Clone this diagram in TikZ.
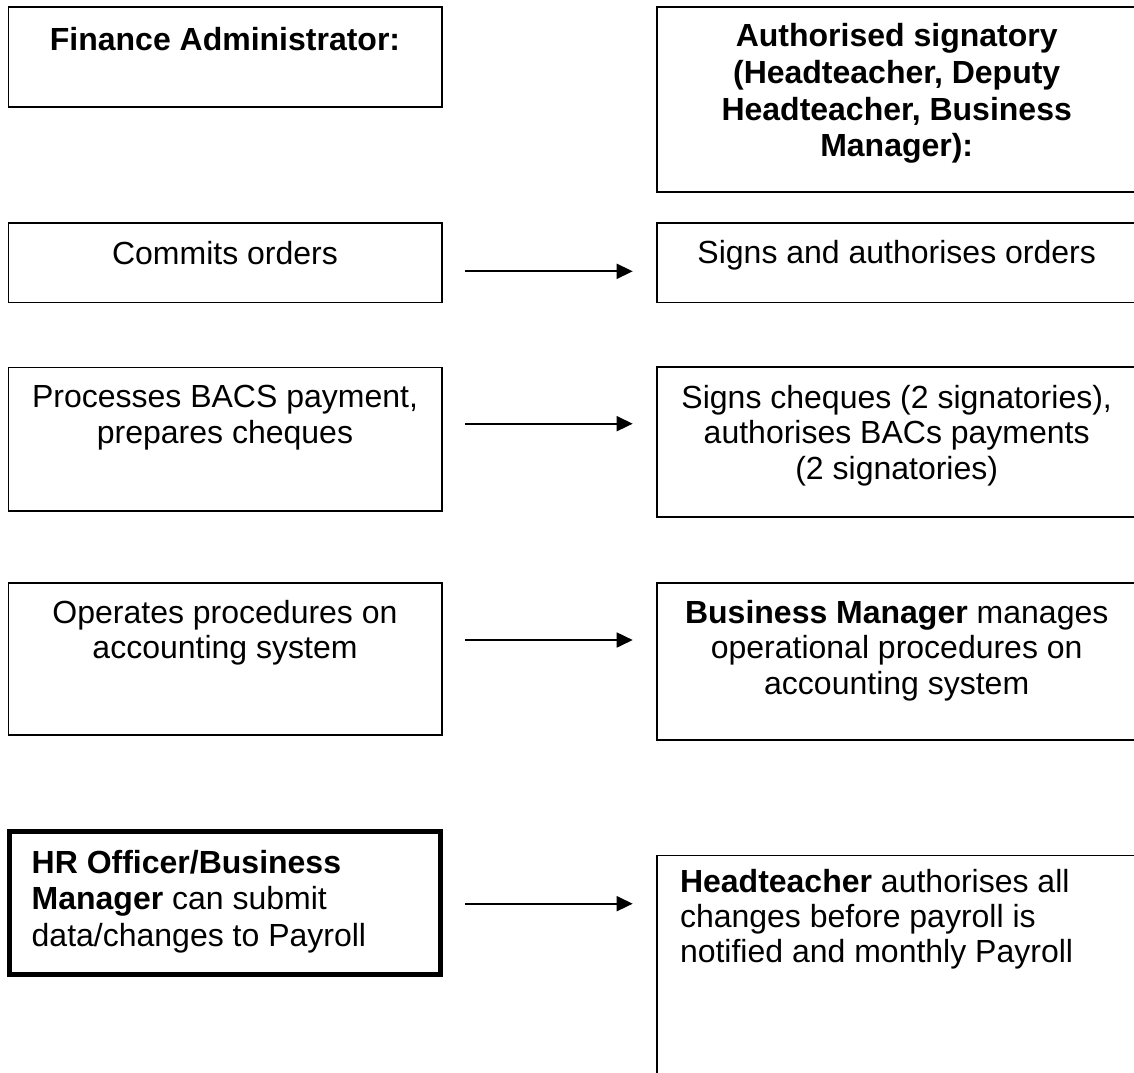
\documentclass[tikz,border=0pt]{standalone}
\usepackage{fontspec}
\setmainfont{Liberation Sans}
\usetikzlibrary{arrows.meta}
\newcommand{\mycbox}[5]{\parbox[c][#1][t]{#2}{\fontsize{32pt}{#3}\selectfont\centering\rule{0pt}{#4}#5}}
\newcommand{\mylbox}[6]{\parbox[c][#1][t]{#2}{\fontsize{32pt}{#3}\selectfont\raggedright\leftskip=#5\relax\rule{0pt}{#4}#6}}
\tikzset{
  bx/.style={draw=black, rectangle, line width=1.6pt, inner sep=0pt, outer sep=0pt, anchor=north west},
  thickbx/.style={bx, line width=4.7pt},
  flow/.style={line width=1.7pt, -{Triangle[length=16pt,width=15pt]}}
}
\begin{document}
\begin{tikzpicture}[x=1pt,y=1pt]
\useasboundingbox (0,0) rectangle (1134,-1072);
\clip (0,0) rectangle (1134,-1072);
% left column
\node[bx] (fa) at (8.3,-6.7) {\mycbox{100pt}{433.4pt}{35.5pt}{43.3pt}{\textbf{Finance Administrator:}}};
\node[bx] (co) at (8.3,-222.7) {\mycbox{79.6pt}{433.4pt}{35.5pt}{41.3pt}{Commits orders}};
\node[bx] (pr) at (8.3,-367.3) {\mycbox{143.7pt}{433.4pt}{35.5pt}{40.4pt}{Processes BACS payment,\\prepares cheques}};
\node[bx] (op) at (8.3,-582.7) {\mycbox{152.3pt}{433.4pt}{35.5pt}{40.3pt}{Operates procedures on\\accounting system}};
\node[thickbx] (hr) at (9.2,-831.7) {\mylbox{143.1pt}{431.6pt}{36.7pt}{41.3pt}{22.5pt}{\textbf{HR Officer/Business}\\\textbf{Manager} can submit\\data/changes to Payroll}};
% right column
\node[bx] (as) at (656.7,-6.7) {\mycbox{185pt}{480pt}{36.7pt}{40pt}{\textbf{Authorised signatory\\(Headteacher, Deputy\\Headteacher, Business\\Manager):}}};
\node[bx] (sa) at (656.7,-222.7) {\mycbox{79.6pt}{480pt}{35.5pt}{40.3pt}{Signs and authorises orders}};
\node[bx] (sc) at (656.7,-367) {\mycbox{149.7pt}{480pt}{35.5pt}{41pt}{Signs cheques (2 signatories),\\authorises BACs payments\\(2 signatories)}};
\node[bx] (bm) at (656.7,-583) {\mycbox{157pt}{480pt}{35.8pt}{40pt}{\textbf{Business Manager} manages\\operational procedures on\\accounting system}};
\node[bx] (ht) at (657,-855.5) {\mylbox{250pt}{480pt}{35pt}{37pt}{23pt}{\textbf{Headteacher} authorises all\\changes before payroll is\\notified and monthly Payroll}};
% arrow ends
\coordinate (a1s) at (465,-271.3);  \coordinate (a1e) at (632.7,-271.3);
\coordinate (a2s) at (465,-423.7);  \coordinate (a2e) at (632.7,-423.7);
\coordinate (a3s) at (465,-640);    \coordinate (a3e) at (632.7,-640);
\coordinate (a4s) at (465,-903.7);  \coordinate (a4e) at (632.7,-903.7);
\draw[flow] (a1s) -- (a1e);
\draw[flow] (a2s) -- (a2e);
\draw[flow] (a3s) -- (a3e);
\draw[flow] (a4s) -- (a4e);
\end{tikzpicture}
\end{document}
